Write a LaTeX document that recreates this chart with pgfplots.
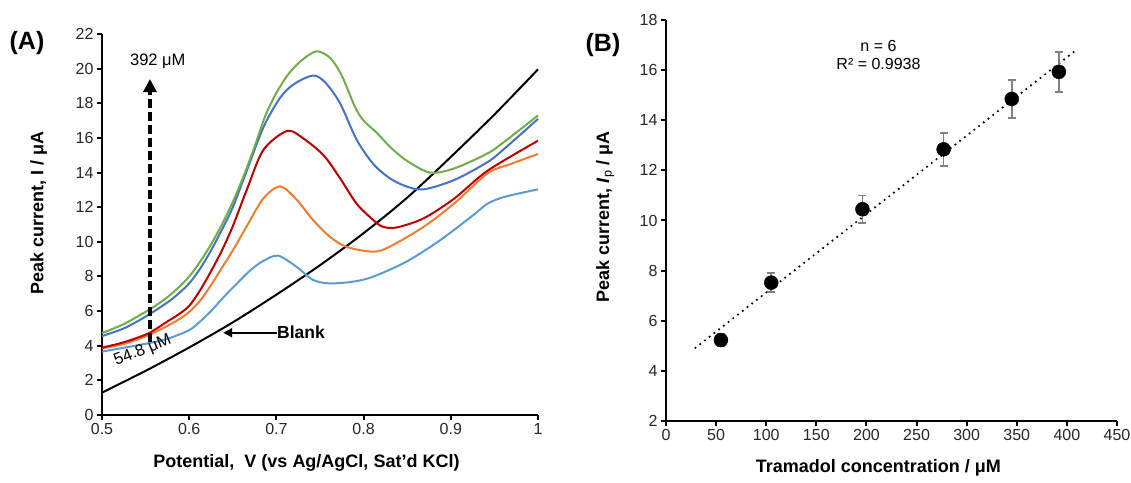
\documentclass[border=0pt]{standalone}
\usepackage{pgfplots}
\pgfplotsset{compat=1.18}
\usepackage{fontspec}
\setmainfont{Liberation Sans}
\usetikzlibrary{arrows.meta}
\newcommand\fs[1]{\fontsize{#1}{#1}\selectfont}
\definecolor{cgreen}{HTML}{70AD47}
\definecolor{cblue}{HTML}{4472C4}
\definecolor{cred}{HTML}{C00000}
\definecolor{corange}{HTML}{ED7D31}
\definecolor{clblue}{HTML}{5B9BD5}
\pgfplotsset{
  myax/.style={
    scale only axis,
    anchor=south west,
    axis x line=bottom, axis y line=left,
    axis line style={-, line width=2.5pt},
    tick align=outside,
    major tick length=5pt,
    every tick/.style={black, line width=2pt},
    tick label style={font=\fs{16}, text=black!85},
    /pgf/number format/assume math mode=true,
    label style={font=\bfseries\fs{18}},
    clip=false,
  }
}
\begin{document}
\begin{tikzpicture}
\useasboundingbox (0,0) rectangle (1131pt,482pt);

% (A) voltammograms
\begin{axis}[myax,
  at={(102pt,67pt)}, width=436pt, height=381pt,
  xmin=0.5, xmax=1, ymin=0, ymax=22,
  xtick={0.5,0.6,0.7,0.8,0.9,1},
  ytick={0,2,4,6,8,10,12,14,16,18,20,22},
  xticklabel style={/pgf/number format/fixed},
  xlabel={Potential,\ \ V (vs Ag/AgCl, Sat’d KCl)},
  ylabel={Peak current, I / μA},
  xlabel style={at={(axis description cs:0.469,-0.126)}, anchor=center},
  ylabel style={at={(axis description cs:-0.145,0.53)}, anchor=center, rotate=0},
]
\addplot[black, line width=2pt, smooth] coordinates {
(0.50,1.29)(0.55,2.55)(0.60,3.9)(0.65,5.35)(0.70,6.95)(0.75,8.65)(0.80,10.5)
(0.85,12.55)(0.90,14.9)(0.95,17.35)(1.0,19.96)};
\addplot[clblue, line width=2pt, smooth] coordinates {
(0.50,3.66)(0.553,4.14)(0.575,4.4)(0.60,4.9)(0.6125,5.4)(0.625,6.0)(0.6375,6.7)(0.65,7.35)
(0.67,8.35)(0.685,8.9)(0.702,9.2)(0.723,8.56)(0.742,7.8)(0.761,7.6)(0.788,7.7)(0.811,7.99)
(0.849,8.85)(0.888,10.1)(0.926,11.55)(0.942,12.2)(0.962,12.6)(1.0,13.03)};
\addplot[corange, line width=2pt, smooth] coordinates {
(0.50,3.85)(0.525,4.1)(0.553,4.6)(0.575,5.15)(0.5875,5.5)(0.60,5.95)(0.6125,6.6)(0.625,7.5)
(0.6375,8.5)(0.65,9.5)(0.666,10.9)(0.685,12.5)(0.704,13.2)(0.722,12.5)(0.742,11.26)
(0.761,10.3)(0.781,9.7)(0.811,9.43)(0.83,9.72)(0.869,10.87)(0.904,12.22)(0.942,13.95)
(0.969,14.5)(1.0,15.07)};
\addplot[cred, line width=2pt, smooth] coordinates {
(0.50,3.89)(0.525,4.2)(0.553,4.71)(0.575,5.4)(0.5875,5.8)(0.60,6.3)(0.6125,7.2)(0.625,8.3)
(0.6375,9.5)(0.65,10.9)(0.666,13.0)(0.685,15.3)(0.712,16.4)(0.73,16.0)(0.754,15.0)
(0.773,13.67)(0.792,12.2)(0.811,11.26)(0.822,10.87)(0.838,10.83)(0.869,11.36)(0.904,12.5)
(0.942,14.1)(1.0,15.84)};
\addplot[cblue, line width=2pt, smooth] coordinates {
(0.50,4.56)(0.525,5.0)(0.55,5.68)(0.575,6.5)(0.5875,7.0)(0.60,7.6)(0.6125,8.45)(0.625,9.5)
(0.6375,10.7)(0.65,12.0)(0.666,14.1)(0.685,16.6)(0.704,18.3)(0.72,19.1)(0.742,19.6)
(0.756,19.2)(0.773,18.0)(0.792,15.9)(0.811,14.5)(0.83,13.67)(0.849,13.2)(0.869,13.03)
(0.904,13.57)(0.942,14.6)(0.962,15.4)(1.0,17.1)};
\addplot[cgreen, line width=2pt, smooth] coordinates {
(0.50,4.73)(0.525,5.25)(0.55,5.96)(0.5625,6.35)(0.575,6.8)(0.5875,7.35)(0.60,8.0)
(0.6125,8.85)(0.625,9.85)(0.6375,11.0)(0.65,12.3)(0.6625,13.8)(0.675,15.5)(0.6875,17.3)
(0.70,18.6)(0.7125,19.6)(0.725,20.3)(0.7375,20.8)(0.748,21.0)(0.762,20.6)(0.775,19.6)
(0.79,17.8)(0.80,17.0)(0.815,16.3)(0.83,15.5)(0.849,14.7)(0.876,14.0)(0.904,14.24)
(0.942,15.1)(0.962,15.8)(1.0,17.3)};
\draw[black, line width=3.5pt, dash pattern=on 9pt off 4pt,
  -{Triangle[length=13pt,width=13pt]}] (axis cs:0.555,4.2) -- (axis cs:0.555,19.4);
\node[font=\fs{16.5}] at (axis cs:0.564,20.4) {392 μM};
\node[font=\fs{16.5}, rotate=22] at (axis cs:0.5467,3.71) {54.8 μM};
\draw[black, line width=2pt, -{Triangle[length=9pt,width=9pt]}]
  (axis cs:0.7007,4.75) -- (axis cs:0.639,4.75);
\node[font=\bfseries\fs{17.5}, anchor=west, inner sep=0pt] at (axis cs:0.7007,4.75) {Blank};
\end{axis}
\node[font=\bfseries\fs{25}] at (27pt,439pt) {(A)};

% (B) calibration
\begin{axis}[myax,
  at={(666pt,61pt)}, width=451pt, height=401pt,
  xmin=0, xmax=450, ymin=2, ymax=18,
  xtick={0,50,100,150,200,250,300,350,400,450},
  ytick={2,4,6,8,10,12,14,16,18},
  xlabel={Tramadol concentration / μM},
  ylabel={Peak current, \textit{I}\textsubscript{\mdseries p} / μA},
  xlabel style={at={(axis description cs:0.471,-0.117)}, anchor=center},
  ylabel style={at={(axis description cs:-0.135,0.509)}, anchor=center, rotate=0},
]
\addplot[black, line width=2.4pt, line cap=round, dash pattern=on 0pt off 6pt]
  coordinates {(29.4,4.92)(410.8,16.85)};
\addplot[only marks, mark=*, mark size=7pt, mark options={black, fill=black},
  error bars/.cd, y dir=both, y explicit,
  error bar style={black!50, line width=1.6pt},
  error mark options={rotate=90, mark size=4pt, black!50, line width=1.6pt}]
  coordinates {
  (54.8,5.23) +- (0,0.25)
  (105,7.52) +- (0,0.38)
  (196,10.45) +- (0,0.55)
  (277,12.84) +- (0,0.66)
  (345,14.85) +- (0,0.75)
  (392,15.93) +- (0,0.80)};
\node[font=\fs{16}] at (axis cs:212,16.97) {n = 6};
\node[font=\fs{16}] at (axis cs:212,16.24) {R² = 0.9938};
\end{axis}
\node[font=\bfseries\fs{25}] at (603pt,437pt) {(B)};
\end{tikzpicture}
\end{document}
